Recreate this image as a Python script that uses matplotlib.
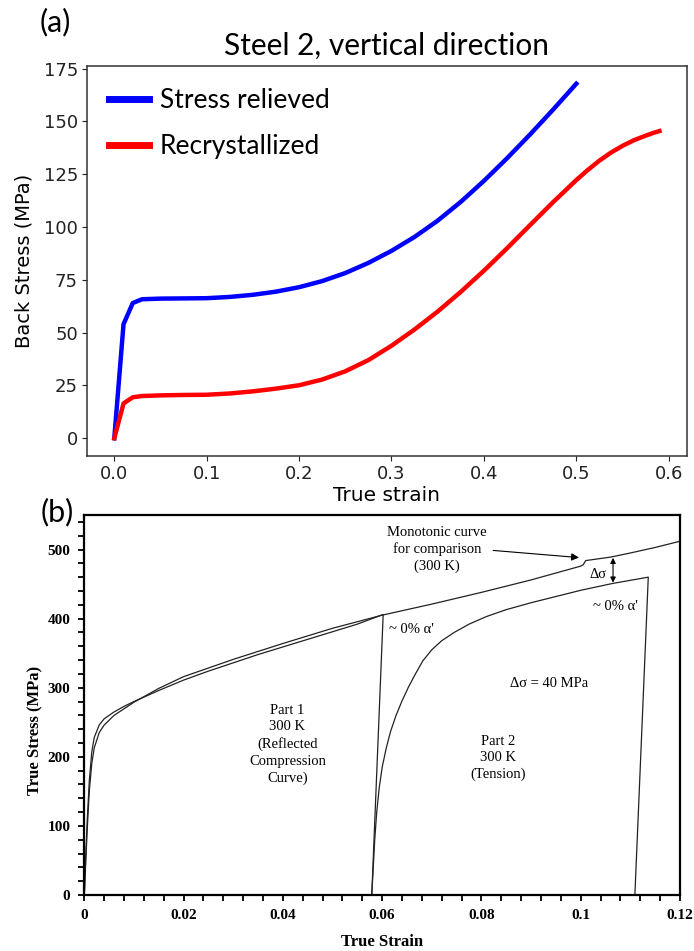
import matplotlib
matplotlib.use('Agg')
import matplotlib.pyplot as plt
from matplotlib.ticker import MultipleLocator, FuncFormatter

# ---- panel (a): back stress, steel 2, vertical direction ----
strain_sr = [0, 0.01, 0.02, 0.03, 0.05, 0.075, 0.1, 0.125, 0.15, 0.175, 0.2,
             0.225, 0.25, 0.275, 0.3, 0.325, 0.35, 0.375, 0.4, 0.425, 0.45,
             0.475, 0.5]
back_sr = [0, 54, 64, 65.8, 66.1, 66.2, 66.3, 66.9, 67.9, 69.4, 71.5,
           74.4, 78.2, 83.0, 88.7, 95.3, 103.0, 111.9, 121.8, 132.5, 143.8,
           155.6, 167.8]

strain_rx = [0, 0.01, 0.02, 0.03, 0.05, 0.075, 0.1, 0.125, 0.15, 0.175, 0.2,
             0.225, 0.25, 0.275, 0.3, 0.325, 0.35, 0.375, 0.4, 0.425, 0.45,
             0.475, 0.5, 0.5125, 0.525, 0.5375, 0.55, 0.5625, 0.575, 0.5825, 0.59]
back_rx = [0, 16.5, 19.4, 20.0, 20.3, 20.5, 20.6, 21.2, 22.2, 23.5, 25.1,
           27.8, 31.7, 37.0, 43.8, 51.5, 60.0, 69.3, 79.3, 89.9, 100.9,
           111.8, 122.2, 127.0, 131.4, 135.2, 138.4, 141.1, 143.2, 144.4, 145.4]

labels_a = ['Stress relieved', 'Recrystallized']

# ---- panel (b): true stress-strain, 300 K ----
part1_strain = [0, 0.0003, 0.0006, 0.001, 0.0015, 0.002, 0.003, 0.004, 0.006,
                0.008, 0.01, 0.015, 0.02, 0.025, 0.03, 0.035, 0.04, 0.045,
                0.05, 0.055, 0.0602, 0.0579]
part1_stress = [0, 60, 110, 165, 207, 228, 246, 255, 265,
                273, 280, 296, 311, 324, 336, 348, 359, 370,
                381, 392, 406, 0]

mono_strain = [0, 0.0003, 0.0006, 0.001, 0.0015, 0.002, 0.003, 0.004, 0.006,
               0.01, 0.015, 0.02, 0.03, 0.04, 0.05, 0.06, 0.07, 0.08, 0.09,
               0.1, 0.1005, 0.101, 0.102, 0.106, 0.11, 0.115, 0.12]
mono_stress = [0, 50, 97, 150, 190, 213, 235, 246, 260,
               279, 299, 316, 341, 364, 386, 405, 421, 438, 456,
               476, 478, 484, 485, 489, 495, 503, 512]

part2_strain = [0.0579, 0.0582, 0.0585, 0.0589, 0.0594, 0.0600, 0.0608, 0.0617,
                0.0628, 0.0640, 0.0653, 0.0667, 0.0682, 0.0700, 0.0720, 0.0745,
                0.0775, 0.0810, 0.0850, 0.0900, 0.0950, 0.1000, 0.1065, 0.1136,
                0.1109]
part2_stress = [0, 40, 80, 120, 155, 185, 212, 237,
                260, 281, 301, 320, 339, 355, 368, 380,
                392, 403, 413, 423, 432, 441, 451, 460,
                0]

serif = 'Liberation Serif'

fig = plt.figure(figsize=(6.94, 9.51), dpi=100)

# ---------------- (a) ----------------
ax = fig.add_axes([0.1254, 0.5205, 0.8641, 0.4101])
ax.plot(strain_sr, back_sr, color='#0000ff', lw=3.2, label=labels_a[0])
ax.plot(strain_rx, back_rx, color='#ff0000', lw=3.2, label=labels_a[1])
ax.set_xticks([0, 0.1, 0.2, 0.3, 0.4, 0.5, 0.6])
ax.set_yticks([0, 25, 50, 75, 100, 125, 150, 175])
ax.tick_params(labelsize=13, colors='#222222', pad=3)
for s in ax.spines.values():
    s.set_color('#333333')
    s.set_linewidth(1.1)
ax.set_xlabel('True strain', fontsize=14.5, labelpad=2)
ax.set_ylabel('Back Stress (MPa)', fontsize=14, labelpad=7)
ax.set_title('Steel 2, vertical direction', fontsize=21.5, family='Lato', pad=8)
leg = ax.legend(loc='upper left', frameon=False, prop={'family': 'Lato', 'size': 19},
                handlelength=1.5, handletextpad=0.4, labelspacing=0.77,
                borderaxespad=0.45)
for h in leg.get_lines():
    h.set_linewidth(5)
fig.text(0.079, 0.977, '(a)', fontsize=22, family='Lato', ha='center', va='center')

# ---------------- (b) ----------------
bx = fig.add_axes([0.1215, 0.0589, 0.8584, 0.3996])
line_kw = dict(color='#222222', lw=0.9)
bx.plot(mono_strain, mono_stress, **line_kw)
bx.plot(part1_strain, part1_stress, **line_kw)
bx.plot(part2_strain, part2_stress, **line_kw)
bx.set_xlim(0, 0.12)
bx.set_ylim(0, 550)
bx.xaxis.set_major_locator(MultipleLocator(0.02))
bx.xaxis.set_minor_locator(MultipleLocator(0.004))
bx.yaxis.set_major_locator(MultipleLocator(100))
bx.yaxis.set_minor_locator(MultipleLocator(20))
bx.xaxis.set_major_formatter(FuncFormatter(lambda v, p: '%g' % round(v, 3)))
for s in bx.spines.values():
    s.set_linewidth(1.6)
    s.set_color('black')
bx.tick_params(which='both', direction='out', top=False, right=False,
               length=4, width=1.3, pad=6)
for t in bx.get_xticklabels() + bx.get_yticklabels():
    t.set_family(serif)
    t.set_fontweight('bold')
    t.set_fontsize(11)
bx.set_xlabel('True Strain', family=serif, fontweight='bold', fontsize=12, labelpad=9)
bx.set_ylabel('True Stress (MPa)', family=serif, fontweight='bold', fontsize=12)
bx.yaxis.set_label_coords(-0.068, 0.434)

txt = dict(family=serif, fontsize=10.5, ha='center', va='center', linespacing=1.35)
bx.text(0.071, 500, 'Monotonic curve\nfor comparison\n(300 K)', **txt)
bx.annotate('', xy=(0.1002, 488), xytext=(0.0818, 499),
            arrowprops=dict(arrowstyle='-|>', color='black', lw=0.8, mutation_scale=11))
bx.annotate('', xy=(0.1065, 488), xytext=(0.1065, 452),
            arrowprops=dict(arrowstyle='<|-|>', color='black', lw=0.8, mutation_scale=8,
                            shrinkA=0, shrinkB=0))
bx.text(0.1034, 464, 'Δσ', **txt)
bx.text(0.1069, 418, "~ 0% α'", **txt)
bx.text(0.0614, 384, "~ 0% α'", family=serif, fontsize=10.5, ha='left', va='center')
bx.text(0.0936, 306, 'Δσ = 40 MPa', **txt)
bx.text(0.0409, 218, 'Part 1\n300 K\n(Reflected\nCompression\nCurve)', **txt)
bx.text(0.0834, 198, 'Part 2\n300 K\n(Tension)', **txt)
fig.text(0.082, 0.462, '(b)', fontsize=22, family='Lato', ha='center', va='center')

plt.savefig('out.png', dpi=100)
